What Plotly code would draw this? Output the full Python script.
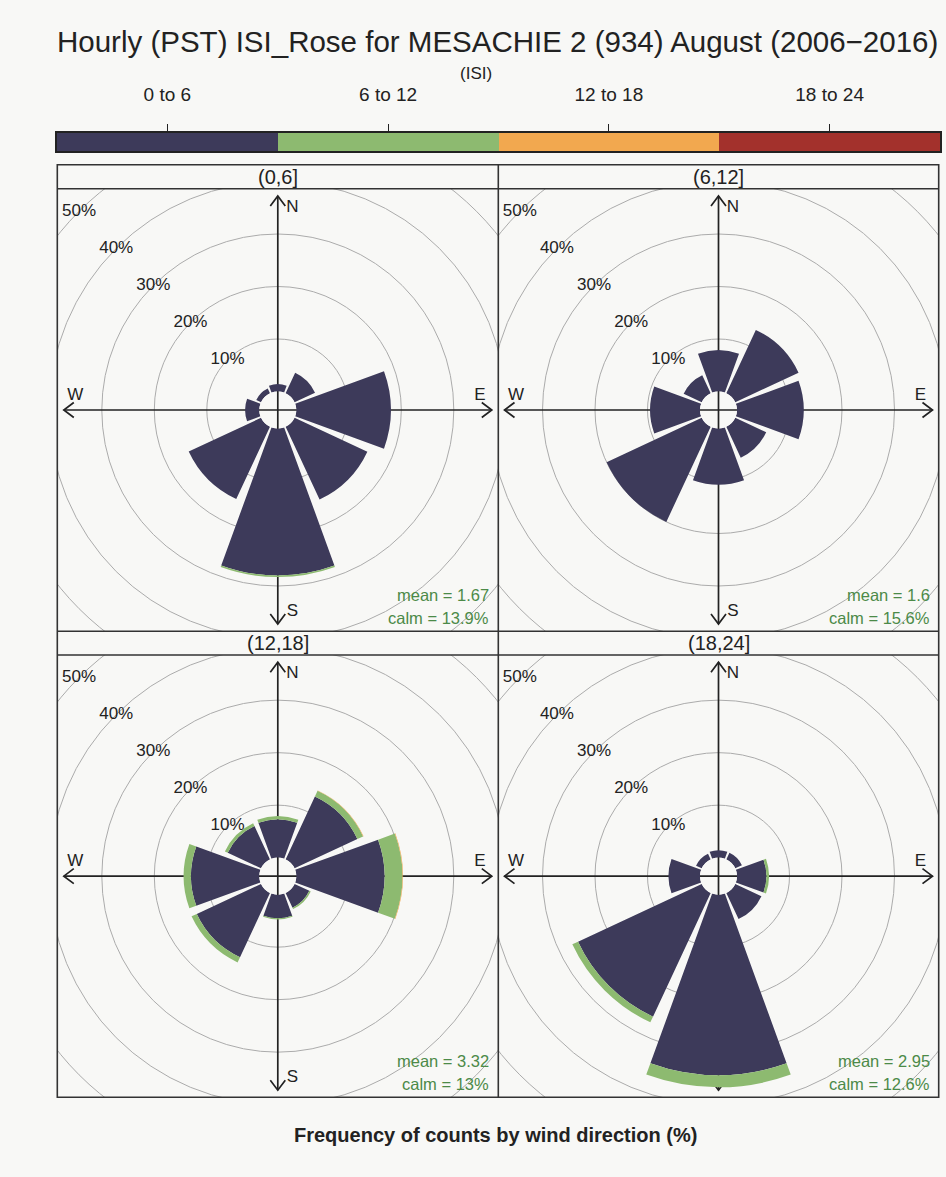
import plotly.graph_objects as go

# ---- data -------------------------------------------------------------
directions = [0, 45, 90, 135, 180, 225, 270, 315]          # N, NE, ... NW
isi_bins = ["0 to 6", "6 to 12", "12 to 18", "18 to 24"]
bin_colors = ["#3d3a5a", "#8dba70", "#f2a84f", "#a3312c"]
hour_panels = ["(0,6]", "(6,12]", "(12,18]", "(18,24]"]

# frequency of counts (%) per direction, per ISI class, per hour group
h00_isi00 = [1.4, 4.3, 18.0, 15.3, 28.0, 15.2, 2.7, 1.0]
h00_isi06 = [0.0, 0.0, 0.0, 0.0, 0.3, 0.0, 0.0, 0.0]
h00_isi12 = [0, 0, 0, 0, 0, 0, 0, 0]
h00_isi18 = [0, 0, 0, 0, 0, 0, 0, 0]

h06_isi00 = [7.9, 13.3, 12.7, 6.5, 10.7, 20.0, 9.5, 3.8]
h06_isi06 = [0, 0, 0, 0, 0, 0, 0, 0]
h06_isi12 = [0, 0, 0, 0, 0, 0, 0, 0]
h06_isi18 = [0, 0, 0, 0, 0, 0, 0, 0]

h12_isi00 = [7.3, 13.2, 16.8, 3.1, 4.5, 13.5, 13.0, 7.0]
h12_isi06 = [0.6, 1.2, 3.4, 0.3, 0.2, 1.1, 1.4, 0.6]
h12_isi12 = [0.0, 0.1, 0.1, 0.0, 0.0, 0.0, 0.0, 0.0]
h12_isi18 = [0, 0, 0, 0, 0, 0, 0, 0]

h18_isi00 = [1.4, 1.4, 5.6, 5.5, 34.4, 26.0, 6.0, 1.2]
h18_isi06 = [0.0, 0.0, 0.5, 0.0, 2.3, 1.2, 0.0, 0.0]
h18_isi12 = [0, 0, 0, 0, 0, 0, 0, 0]
h18_isi18 = [0, 0, 0, 0, 0, 0, 0, 0]

panel_freqs = [
    [h00_isi00, h00_isi06, h00_isi12, h00_isi18],
    [h06_isi00, h06_isi06, h06_isi12, h06_isi18],
    [h12_isi00, h12_isi06, h12_isi12, h12_isi18],
    [h18_isi00, h18_isi06, h18_isi12, h18_isi18],
]
panel_mean = ["1.67", "1.6", "3.32", "2.95"]
panel_calm = ["13.9", "15.6", "13", "12.6"]
ring_pcts = [10, 20, 30, 40, 50]
compass = ["N", "S", "W", "E"]

# ---- layout geometry (pixels) -----------------------------------------
W, H = 946, 1177
col_x = [(57.3, 498.3), (498.3, 938.7)]
row_y = [(188.7, 631.3), (655.0, 1097.3)]
STRIP = 24.0
HOLE_PX = 18.5          # radius of the calm hole
PX_PER_PCT = 5.25       # radial scale
RMAX = 38               # radial range of each rose
ARM = 214               # half length of the compass arrows

FONT = "Liberation Sans, Arial, sans-serif"
NARROW = "Liberation Sans Narrow, Liberation Sans, Arial, sans-serif"
INK = "#222222"
GREEN_TXT = "#4c8a48"


def fx(px):
    return px / W


def fy(py):
    return 1 - py / H


def ring_px(p):
    return HOLE_PX + PX_PER_PCT * p


def label(x, y, text, size, color=INK, family=FONT, xref="paper",
          yref="paper", xanchor="center"):
    return dict(x=x, y=y, xref=xref, yref=yref, text=text, showarrow=False,
                xanchor=xanchor, yanchor="middle",
                font=dict(family=family, size=size, color=color))


fig = go.Figure()
shapes = []
annotations = []
layout = {}

for i, name in enumerate(hour_panels):
    r, c = divmod(i, 2)
    k = i + 1
    x0, x1 = col_x[c]
    y0, y1 = row_y[r]
    cx, cy = (x0 + x1) / 2, (y0 + y1) / 2
    hw, hh = (x1 - x0) / 2, (y1 - y0) / 2
    xa, ya = f"x{k}", f"y{k}"

    # cartesian frame (pixel units about the rose centre) that carries the
    # clipped grid rings, ring labels and compass arrows under the rose
    layout[f"xaxis{k}"] = dict(domain=[fx(x0), fx(x1)], range=[-hw, hw],
                              visible=False, anchor=ya, fixedrange=True)
    layout[f"yaxis{k}"] = dict(domain=[fy(y1), fy(y0)], range=[-hh, hh],
                              visible=False, anchor=xa, fixedrange=True)

    ring_r = [ring_px(p) for p in ring_pcts]
    for rr in ring_r:
        shapes.append(dict(type="circle", xref=xa, yref=ya, x0=-rr, x1=rr,
                           y0=-rr, y1=rr, layer="below",
                           line=dict(color="#ababab", width=1)))
    fig.add_trace(go.Scatter(
        x=[-rr * 0.7071 for rr in ring_r], y=[rr * 0.7071 for rr in ring_r],
        text=[f"{p}%" for p in ring_pcts], mode="text",
        textposition="middle center",
        textfont=dict(family=FONT, size=17, color=INK),
        xaxis=xa, yaxis=ya, showlegend=False, hoverinfo="skip"))

    # compass arrows
    line = dict(color=INK, width=1.7)
    shapes.append(dict(type="line", xref=xa, yref=ya, x0=0, x1=0,
                       y0=-ARM, y1=ARM, layer="below", line=line))
    shapes.append(dict(type="line", xref=xa, yref=ya, x0=-ARM, x1=ARM,
                       y0=0, y1=0, layer="below", line=line))
    heads = [
        f"M -7.5,{ARM-10} L 0,{ARM} L 7.5,{ARM-10}",
        f"M -7.5,{-ARM+10} L 0,{-ARM} L 7.5,{-ARM+10}",
        f"M {ARM-10},-7.5 L {ARM},0 L {ARM-10},7.5",
        f"M {-ARM+10},-7.5 L {-ARM},0 L {-ARM+10},7.5",
    ]
    for pth in heads:
        shapes.append(dict(type="path", xref=xa, yref=ya, path=pth,
                           layer="below", line=line))
    fig.add_trace(go.Scatter(
        x=[14.5, 14.5, -202.5, 202], y=[202.5, -202, 14.5, 14.5],
        text=compass, mode="text", textposition="middle center",
        textfont=dict(family=FONT, size=17, color=INK),
        xaxis=xa, yaxis=ya, showlegend=False, hoverinfo="skip"))

    # summary statistics
    annotations.append(label(hw - 7, -185, f"mean = {panel_mean[i]}", 16.5,
                             color=GREEN_TXT, xref=xa, yref=ya,
                             xanchor="right"))
    annotations.append(label(hw - 7, -208, f"calm = {panel_calm[i]}%", 16.5,
                             color=GREEN_TXT, xref=xa, yref=ya,
                             xanchor="right"))

    # strip label
    annotations.append(label(fx(cx), fy(y0 - STRIP / 2), name, 20))

    # the rose itself
    rpx = ring_px(RMAX)
    pname = "polar" if k == 1 else f"polar{k}"
    layout[pname] = dict(
        domain=dict(x=[fx(cx - rpx), fx(cx + rpx)],
                    y=[fy(cy + rpx), fy(cy - rpx)]),
        hole=HOLE_PX / rpx,
        bgcolor="rgba(0,0,0,0)",
        barmode="stack",
        radialaxis=dict(range=[0, RMAX], visible=False, showgrid=False),
        angularaxis=dict(rotation=90, direction="clockwise", visible=False,
                         showgrid=False),
    )
    for b, vals in enumerate(panel_freqs[i]):
        fig.add_trace(go.Barpolar(r=vals, theta=directions, width=40,
                                  marker=dict(color=bin_colors[b],
                                              line=dict(width=0)),
                                  subplot=pname, name=isi_bins[b],
                                  showlegend=False))

# panel frames and strip separators
frame = dict(color="#333333", width=1.6)
shapes.append(dict(type="rect", xref="paper", yref="paper",
                   x0=fx(57.3), x1=fx(938.7), y0=fy(1097.3), y1=fy(164.7),
                   line=frame, layer="above"))
shapes.append(dict(type="line", xref="paper", yref="paper",
                   x0=fx(498.3), x1=fx(498.3), y0=fy(1097.3), y1=fy(164.7),
                   line=frame, layer="above"))
for yy in [188.7, 631.3, 655.0]:
    shapes.append(dict(type="line", xref="paper", yref="paper",
                       x0=fx(57.3), x1=fx(938.7), y0=fy(yy), y1=fy(yy),
                       line=frame, layer="above"))

# ISI key along the top
fig.add_trace(go.Heatmap(z=[[0, 1, 2, 3]], x=[0, 1, 2, 3], y=[0],
                         colorscale=[[0, bin_colors[0]], [1 / 3, bin_colors[1]],
                                     [2 / 3, bin_colors[2]], [1, bin_colors[3]]],
                         zmin=0, zmax=3, showscale=False, hoverinfo="skip",
                         xaxis="x5", yaxis="y5"))
layout["xaxis5"] = dict(domain=[fx(57), fx(940)], range=[-0.5, 3.5],
                        anchor="y5", side="top", tickvals=[0, 1, 2, 3],
                        ticktext=isi_bins, ticks="outside", ticklen=7,
                        tickcolor=INK, tickwidth=1.2, showline=True,
                        mirror=True, linecolor=INK, linewidth=1.5,
                        showgrid=False, zeroline=False, ticklabelstandoff=16,
                        tickfont=dict(family=NARROW, size=19, color=INK),
                        fixedrange=True)
layout["yaxis5"] = dict(domain=[fy(151), fy(133)], range=[-0.5, 0.5],
                        anchor="x5", showticklabels=False, ticks="",
                        showline=True, mirror=True, linecolor=INK,
                        linewidth=1.5, showgrid=False, zeroline=False,
                        fixedrange=True)

annotations.append(label(fx(476), fy(73), "(ISI)", 17, family=NARROW))
annotations.append(label(fx(498), fy(41),
                         "Hourly (PST) ISI_Rose for MESACHIE 2 (934) August (2006\u22122016)",
                         29.5, family=NARROW))
annotations.append(label(fx(495), fy(1135),
                         "<b>Frequency of counts by wind direction (%)</b>", 20))

fig.update_layout(
    width=W, height=H, template="none",
    margin=dict(l=0, r=0, t=0, b=0),
    paper_bgcolor="#f8f8f6", plot_bgcolor="rgba(0,0,0,0)",
    showlegend=False, shapes=shapes, annotations=annotations,
    **layout,
)

fig.write_html("out.html")
